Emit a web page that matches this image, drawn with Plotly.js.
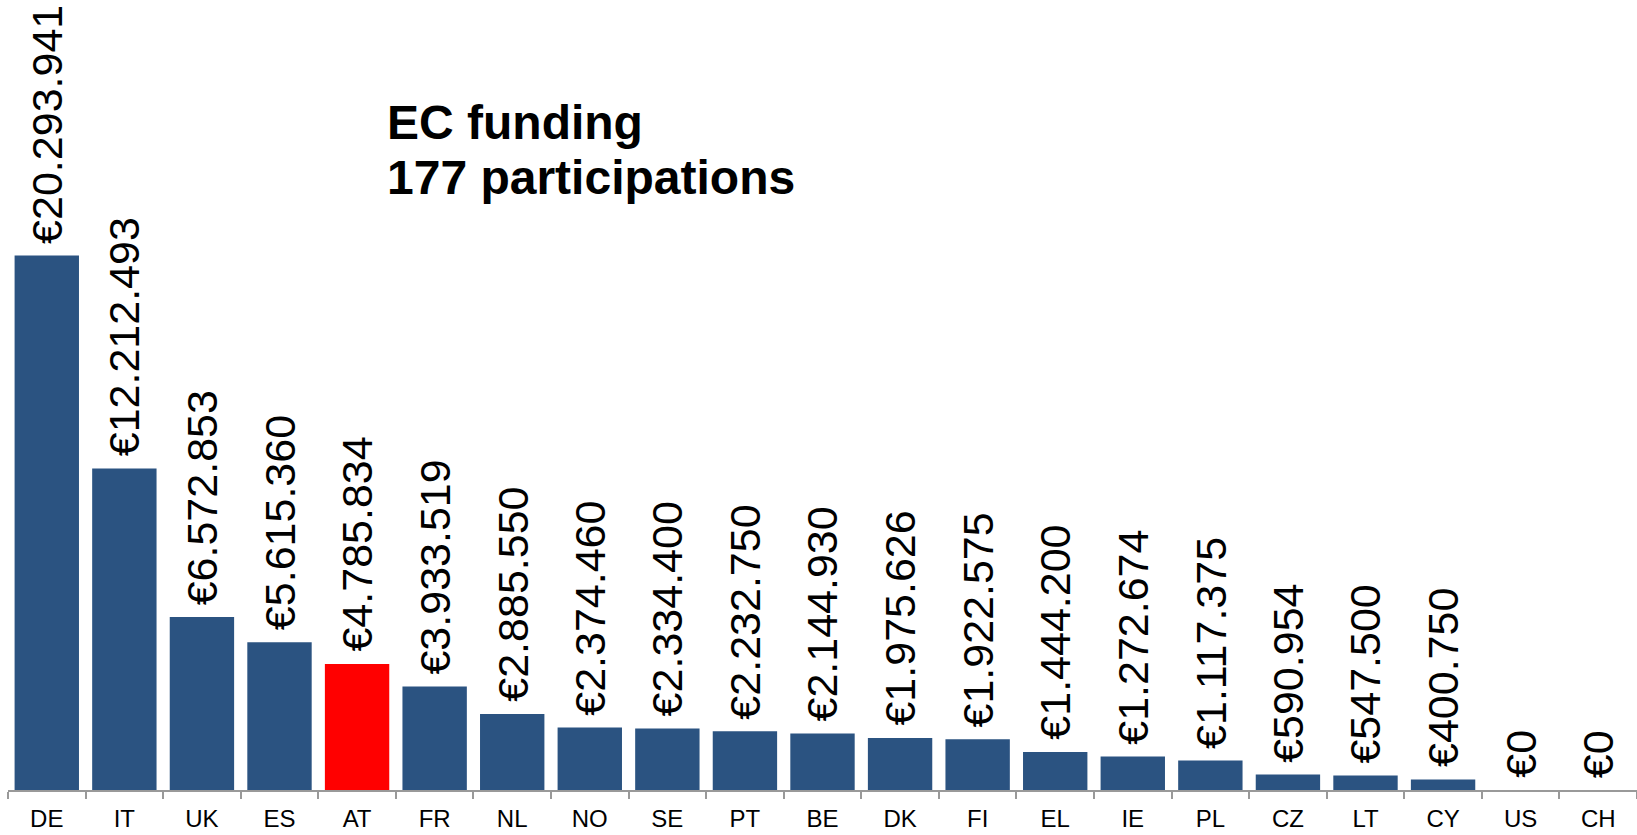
<!DOCTYPE html>
<html>
<head>
<meta charset="utf-8">
<script src="https://cdn.plot.ly/plotly-3.0.1.min.js"></script>
<style>html,body{margin:0;padding:0;background:#fff;}#chart{width:1637px;height:835px;}</style>
</head>
<body>
<div id="chart"></div>
<script>
const countries = ["DE","IT","UK","ES","AT","FR","NL","NO","SE","PT","BE","DK","FI","EL","IE","PL","CZ","LT","CY","US","CH"];
const funding = [20293941,12212493,6572853,5615360,4785834,3933519,2885550,2374460,2334400,2232750,2144930,1975626,1922575,1444200,1272674,1117375,590954,547500,400750,0,0];
const highlight = "AT";
const titleLines = ["EC funding", "177 participations"];

function fmt(v){
  const s = String(Math.round(v));
  return "€" + s.replace(/\B(?=(\d{3})+(?!\d))/g, ".");
}

const FONT = '"Liberation Sans", Arial, sans-serif';
const colors = countries.map(c => c === highlight ? "#ff0000" : "#2b5381");

const trace = {
  type: "bar",
  x: countries,
  y: funding,
  marker: {color: colors, line: {width: 0}},
  hoverinfo: "x+y"
};

const annotations = countries.map((c, i) => ({
  x: c, y: funding[i], xref: "x", yref: "y",
  text: fmt(funding[i]),
  textangle: -90,
  showarrow: false,
  xanchor: "center", yanchor: "bottom",
  yshift: 10,
  font: {family: FONT, size: 43, color: "#000"}
}));

annotations.push({
  xref: "paper", yref: "paper", x: 0.2314, y: 0.8454,
  xanchor: "left", yanchor: "middle", showarrow: false,
  text: "<b>" + titleLines[0] + "</b>",
  font: {family: FONT, size: 48, color: "#000"}
});
annotations.push({
  xref: "paper", yref: "paper", x: 0.2314, y: 0.7757,
  xanchor: "left", yanchor: "middle", showarrow: false,
  text: "<b>" + titleLines[1] + "</b>",
  font: {family: FONT, size: 48, color: "#000"}
});

const layout = {
  width: 1637, height: 835,
  margin: {l: 8, r: 0, t: 0, b: 45, pad: 0},
  paper_bgcolor: "#fff", plot_bgcolor: "#fff",
  bargap: 0.17,
  showlegend: false,
  xaxis: {
    type: "category",
    range: [-0.5, 20.5],
    showline: true, linecolor: "#999999", linewidth: 2,
    ticks: "outside", tickson: "boundaries", ticklen: 7, tickwidth: 2, tickcolor: "#999999",
    ticklabelstandoff: 6,
    showgrid: false, zeroline: false,
    tickfont: {family: FONT, size: 24, color: "#000"},
    fixedrange: true
  },
  yaxis: {
    range: [0, 30000000],
    visible: false,
    showgrid: false, zeroline: false,
    fixedrange: true
  },
  annotations: annotations
};

Plotly.newPlot("chart", [trace], layout, {displayModeBar: false, staticPlot: true});
</script>
</body>
</html>
